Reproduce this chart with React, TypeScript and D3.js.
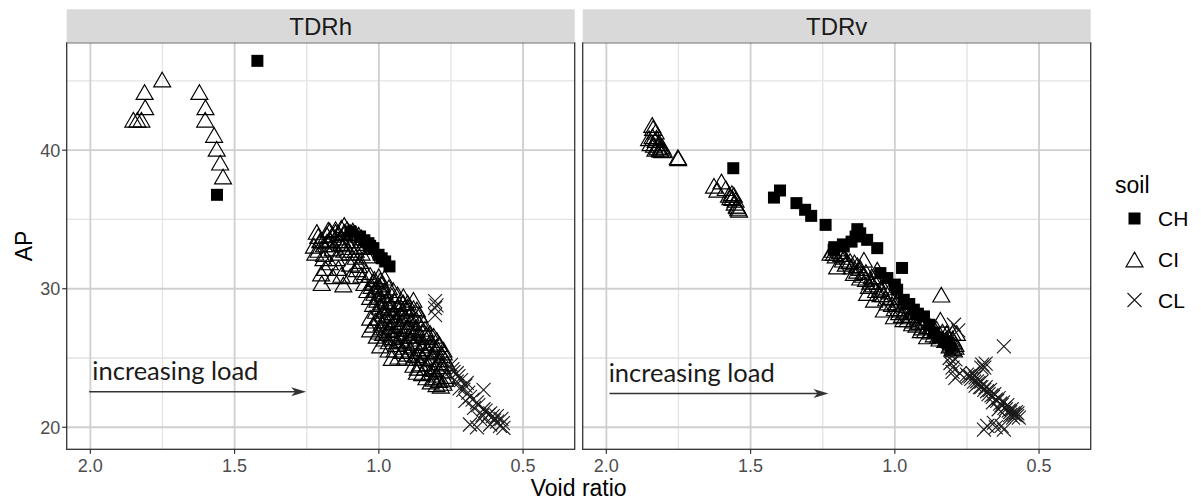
import React from 'react';
import * as d3 from 'd3';

const facets = ['TDRh', 'TDRv'];
const soils = ['CH', 'CI', 'CL'];
const xTicks = [2.0, 1.5, 1.0, 0.5];
const xMinor = [1.75, 1.25, 0.75];
const yTicks = [20, 30, 40];
const yMinor = [25, 35, 45];

// points are [void ratio, AP]
const tdrhCH = [
  [1.421, 46.45], [1.561, 36.78], [1.099, 34.13], [1.065, 33.77], [1.036, 33.29], [1.019, 32.93],
  [1.001, 32.45], [0.978, 31.97], [0.963, 31.61], [1.05, 33.5], [0.99, 32.2], [1.03, 33.1],
];
const tdrhCI = [
  [1.751, 45.1], [1.812, 44.2], [1.81, 43.1], [1.851, 42.2], [1.837, 42.2], [1.823, 42.2],
  [1.622, 44.2], [1.601, 43.1], [1.602, 42.2], [1.571, 41.1], [1.562, 40.1], [1.55, 39.1], [1.54, 38.1],
  [1.215, 34.1], [1.175, 34.25], [1.12, 34.6], [1.203, 33.5], [1.169, 33.5], [1.209, 32.8], [1.192, 32.2],
  [1.186, 31.5], [1.14, 31.5], [1.198, 30.4], [1.123, 30.3], [1.099, 30.9], [1.076, 31.4], [1.065, 32.0],
  [1.146, 32.2], [1.18, 33.9], [1.16, 33.9], [1.14, 34.0], [1.12, 34.1], [1.10, 34.1], [1.08, 34.0],
  [1.06, 33.7], [1.09, 33.5], [1.11, 33.5], [1.13, 33.3], [1.16, 33.2], [1.19, 33.2], [1.05, 33.3],
  [1.07, 33.1], [1.03, 33.0], [1.15, 34.1], [1.13, 33.7], [1.17, 33.6], [1.21, 33.8], [1.20, 33.5],
  [1.225, 33.1], [1.10, 32.6], [1.08, 32.3], [1.04, 32.4], [1.12, 32.8],
  [1.17, 34.2], [1.15, 34.3], [1.13, 34.4], [1.11, 34.3], [1.09, 34.2], [1.07, 33.9], [1.18, 33.4],
  [1.14, 33.5], [1.12, 33.2], [1.10, 33.0], [1.08, 32.8], [1.06, 32.6], [1.16, 32.9], [1.19, 32.5],
  [1.22, 32.6], [1.14, 32.6], [1.17, 31.9], [1.10, 31.8], [1.07, 31.7], [1.20, 31.1], [1.16, 30.9], [1.13, 31.0],
  [1.06, 31.0], [1.03, 31.0], [1.0, 30.9], [0.98, 30.8], [1.05, 30.4], [1.02, 30.5], [0.99, 30.3],
  [1.045, 31.2], [1.015, 30.7], [0.995, 30.6], [1.025, 30.2], [0.995, 30.1], [0.965, 30.1],
  [1.04, 29.9], [1.01, 30.0], [0.98, 29.8], [0.95, 29.9], [1.03, 29.4], [1.0, 29.5], [0.97, 29.3],
  [1.015, 29.7], [0.985, 29.6], [0.955, 29.5], [0.935, 29.6], [0.90, 29.0],
  [0.915, 29.45], [0.88, 29.2], [1.02, 28.9], [0.99, 29.0], [0.96, 28.8], [0.93, 28.9], [0.90, 28.7],
  [1.005, 29.2], [0.975, 29.1], [0.945, 29.1], [0.915, 29.0], [0.995, 28.7], [0.965, 28.6], [0.935, 28.6],
  [0.905, 28.5], [0.88, 28.6],
  [1.01, 28.4], [0.98, 28.5], [0.95, 28.3], [0.92, 28.4], [0.868, 28.5], [0.89, 28.2],
  [0.985, 28.2], [0.955, 28.1], [0.925, 28.1], [0.895, 28.0], [0.86, 28.1],
  [1.03, 27.9], [1.0, 27.9], [0.97, 28.0], [0.94, 27.8], [0.91, 27.9], [0.87, 27.8],
  [1.01, 27.7], [0.98, 27.7], [0.95, 27.6], [0.92, 27.6], [0.89, 27.6], [0.86, 27.5],
  [1.02, 27.4], [0.99, 27.5], [0.96, 27.3], [0.93, 27.4], [0.90, 27.3], [0.845, 27.5], [0.87, 27.2],
  [0.99, 27.2], [0.96, 27.1], [0.93, 27.1], [0.90, 27.1], [0.87, 27.0], [0.84, 27.1],
  [1.03, 27.06], [1.0, 26.9], [0.97, 27.0], [0.94, 26.8], [0.91, 26.9], [0.88, 26.8], [0.822, 26.8], [0.85, 26.9],
  [0.985, 26.8], [0.955, 26.7], [0.925, 26.6], [0.895, 26.6], [0.865, 26.6], [0.835, 26.7], [0.81, 26.6],
  [1.007, 26.6], [0.98, 26.4], [0.95, 26.5], [0.92, 26.3], [0.89, 26.4], [0.86, 26.2], [0.799, 26.3], [0.83, 26.5],
  [0.965, 26.2], [0.935, 26.2], [0.905, 26.1], [0.875, 26.1], [0.845, 26.1], [0.815, 26.1], [0.79, 26.0],
  [0.995, 25.9], [0.966, 25.6], [0.94, 26.0], [0.91, 25.8], [0.88, 25.9], [0.85, 25.7], [0.82, 25.9], [0.776, 25.6], [0.80, 25.8],
  [0.945, 25.6], [0.92, 25.5], [0.89, 25.6], [0.86, 25.5], [0.83, 25.6], [0.80, 25.5], [0.775, 25.4],
  [0.955, 25.0], [0.932, 25.1], [0.90, 25.3], [0.87, 25.2], [0.84, 25.4], [0.81, 25.1], [0.78, 25.2],
  [0.91, 25.0], [0.88, 25.0], [0.85, 25.0], [0.82, 24.9], [0.79, 24.7], [0.77, 24.9],
  [0.857, 24.6], [0.88, 24.5], [0.83, 24.6], [0.80, 24.4], [0.764, 24.6], [0.79, 24.9],
  [0.865, 24.3], [0.84, 24.3], [0.81, 24.2], [0.78, 24.4],
  [0.868, 24.0], [0.822, 24.0], [0.85, 23.9], [0.80, 23.8], [0.78, 24.1],
  [0.835, 23.6], [0.80, 23.6], [0.77, 23.5], [0.785, 23.0], [0.80, 23.1],
  [0.776, 23.2], [0.764, 23.7], [0.79, 23.4], [0.81, 23.5], [0.82, 23.3],
];
const tdrhCL = [
  [0.805, 29.1], [0.805, 28.6], [0.805, 28.1], [0.80, 28.8],
  [0.741, 24.0], [0.724, 23.7], [0.695, 23.2], [0.707, 22.7], [0.684, 22.2], [0.66, 21.8], [0.637, 21.3],
  [0.614, 21.0], [0.591, 20.8], [0.684, 20.2], [0.649, 20.6], [0.614, 20.2], [0.58, 20.1], [0.568, 19.96],
  [0.637, 22.7], [0.75, 24.5], [0.72, 22.8], [0.70, 21.9], [0.62, 20.9], [0.60, 20.5], [0.66, 20.0],
  [0.73, 23.3], [0.67, 21.4], [0.64, 20.9],
  [0.745, 24.2], [0.73, 23.9], [0.715, 23.4], [0.70, 23.0], [0.69, 22.5], [0.675, 22.0], [0.655, 21.6],
  [0.63, 21.2], [0.605, 20.8], [0.59, 20.4], [0.57, 20.3], [0.575, 20.6],
];

const tdrvCH = [
  [1.56, 38.7], [1.419, 36.58], [1.398, 37.09], [1.341, 36.18], [1.311, 35.7], [1.29, 35.26], [1.24, 34.61],
  [1.13, 34.3], [1.136, 33.77], [1.096, 33.53], [1.061, 32.93], [1.177, 33.05], [1.212, 32.81], [0.975, 31.5],
  [1.12, 34.0], [1.15, 33.4], [1.21, 33.0], [1.18, 33.2], [1.026, 30.77], [1.05, 31.13], [0.969, 29.2],
  [0.934, 28.49], [0.899, 28.0], [0.864, 26.8], [0.818, 26.08], [0.807, 25.6], [0.992, 29.93],
  [1.0, 30.3], [0.95, 28.9], [0.92, 28.2], [0.88, 27.4], [0.85, 26.5], [0.83, 26.2],
];
const tdrvCI = [
  [1.841, 41.82], [1.829, 41.34], [1.852, 40.86], [1.829, 40.74], [1.818, 40.5], [1.806, 40.26], [1.812, 40.02],
  [1.835, 40.38], [1.847, 40.5], [1.801, 40.02], [1.751, 39.42], [1.752, 39.5],
  [1.84, 41.0], [1.826, 40.9], [1.822, 40.2], [1.815, 40.1], [1.805, 40.0], [1.83, 40.1], [1.838, 41.6],
  [1.627, 37.43], [1.601, 37.74], [1.615, 37.14], [1.586, 37.26], [1.575, 36.78], [1.563, 36.54], [1.552, 36.42],
  [1.546, 35.94], [1.54, 35.7], [1.558, 36.78],
  [1.555, 36.2], [1.548, 36.0], [1.543, 35.8], [1.57, 36.6], [1.565, 36.9],
  [1.223, 32.6], [1.211, 32.57], [1.19, 32.7], [1.165, 31.97], [1.2, 31.6], [1.18, 32.1], [1.107, 32.09],
  [1.14, 31.9], [1.12, 31.5], [1.142, 31.13], [1.10, 31.2], [1.061, 31.37], [1.08, 30.9], [1.06, 30.5],
  [1.12, 30.8], [1.096, 29.69], [1.09, 30.2], [1.04, 30.1], [1.072, 29.2], [1.05, 29.6], [1.02, 29.8],
  [1.038, 28.49], [1.01, 28.9], [0.99, 29.2], [1.003, 28.0], [0.98, 28.5], [0.96, 28.8], [0.95, 28.1],
  [0.97, 27.8], [0.93, 28.3], [0.94, 27.5], [0.92, 27.9], [0.90, 27.6], [0.876, 27.28], [0.91, 27.0],
  [0.888, 26.56], [0.86, 27.0], [0.842, 27.76], [0.85, 26.6], [0.82, 26.8], [0.80, 26.4], [0.79, 26.0],
  [0.81, 25.9], [0.795, 25.6], [0.785, 26.8], [0.839, 29.57],
  [1.215, 32.8], [1.205, 32.4], [1.195, 32.9], [1.185, 32.5], [1.175, 32.3], [1.17, 31.8], [1.155, 32.0],
  [1.15, 31.6], [1.13, 31.7], [1.13, 31.3], [1.11, 31.0], [1.10, 30.7], [1.085, 30.5], [1.075, 30.3],
  [1.07, 30.8], [1.065, 29.9], [1.05, 30.0], [1.04, 29.6], [1.03, 29.3], [1.025, 29.0], [1.015, 29.4],
  [1.0, 28.6], [0.995, 29.0], [0.985, 28.3], [0.975, 28.1], [0.965, 28.4], [0.955, 27.8], [0.945, 28.0],
  [0.935, 27.7], [0.925, 27.4], [0.915, 27.6], [0.905, 27.2], [0.895, 27.0], [0.885, 27.3], [0.875, 26.9],
  [0.865, 26.7], [0.855, 27.1], [0.845, 26.4], [0.835, 26.9], [0.825, 26.3], [0.815, 26.5], [0.805, 26.1],
  [0.80, 26.8], [0.795, 26.2], [0.79, 25.8], [0.80, 25.7],
];
const tdrvCL = [
  [0.795, 27.4], [0.622, 25.84], [0.807, 24.64], [0.79, 23.56], [0.80, 24.0], [0.697, 24.52], [0.69, 24.3],
  [0.738, 23.68], [0.715, 23.32], [0.70, 22.9], [0.68, 22.6], [0.665, 22.3], [0.65, 22.0], [0.635, 21.7],
  [0.62, 21.4], [0.605, 21.2], [0.59, 21.0], [0.576, 20.8], [0.58, 21.1], [0.60, 20.9], [0.691, 19.83],
  [0.657, 20.32], [0.622, 19.83], [0.63, 20.1], [0.75, 23.8], [0.81, 25.0], [0.78, 27.0], [0.72, 23.0],
  [0.66, 21.8], [0.64, 21.3],
  [0.745, 23.7], [0.735, 23.5], [0.73, 23.9], [0.725, 23.3], [0.72, 23.6], [0.71, 23.2], [0.705, 22.9],
  [0.70, 23.3], [0.69, 22.7], [0.685, 22.9], [0.675, 22.4], [0.67, 22.7], [0.66, 22.2], [0.655, 22.4],
  [0.645, 21.9], [0.64, 22.1], [0.63, 21.6], [0.625, 21.8], [0.615, 21.3], [0.61, 21.6], [0.60, 21.1],
  [0.595, 21.3], [0.585, 20.9], [0.575, 21.0], [0.57, 20.7], [0.59, 20.7],
  [0.80, 24.3], [0.79, 24.9], [0.775, 23.9], [0.70, 24.3], [0.685, 24.6], [0.68, 20.1], [0.65, 20.0],
];

const panelData = {
  TDRh: { CH: tdrhCH, CI: tdrhCI, CL: tdrhCL },
  TDRv: { CH: tdrvCH, CI: tdrvCI, CL: tdrvCL },
};

// "increasing load" arrows, in data units
const loadNotes = {
  TDRh: { from: 2.004, to: 1.252, ap: 22.57, textX: 1.993, textAP: 23.4 },
  TDRv: { from: 1.989, to: 1.23, ap: 22.43, textX: 1.992, textAP: 23.3 },
};

const panelLeft = [66.7, 582.7];
const panelW = 508;
const panelTop = 42.7;
const panelH = 406.6;
const stripTop = 9.3;
const font = 'Liberation Sans, Arial, Helvetica, sans-serif';

const x = d3.scaleLinear().domain([2.082, 0.321]).range([0, panelW]);
const y = d3.scaleLinear().domain([18.41, 47.76]).range([panelH, 0]);

const Marker = ({ shape, cx, cy }) => {
  if (shape === 'CH') {
    const s = 12;
    return <rect x={cx - s / 2} y={cy - s / 2} width={s} height={s} fill="#000" />;
  }
  if (shape === 'CI') {
    const w = 17, h = 14.7;
    const d = `M${cx},${cy - h / 2}L${cx + w / 2},${cy + h / 2}L${cx - w / 2},${cy + h / 2}Z`;
    return <path d={d} fill="none" stroke="#000" strokeWidth={1.15} />;
  }
  const r = 7;
  return (
    <path
      d={`M${cx - r},${cy - r}L${cx + r},${cy + r}M${cx - r},${cy + r}L${cx + r},${cy - r}`}
      stroke="#1a1a1a"
      strokeWidth={1.1}
      fill="none"
    />
  );
};

const Panel = ({ facet, left }) => {
  const data = panelData[facet];
  const note = loadNotes[facet];
  const ax1 = x(note.from), ax2 = x(note.to), ay = y(note.ap);
  return (
    <g transform={`translate(${left},${panelTop})`}>
      <rect x={0} y={0} width={panelW} height={panelH} fill="#fff" />
      {xMinor.map(v => (
        <line key={'xm' + v} x1={x(v)} x2={x(v)} y1={0} y2={panelH} stroke="#e3e3e3" strokeWidth={1.3} />
      ))}
      {yMinor.map(v => (
        <line key={'ym' + v} x1={0} x2={panelW} y1={y(v)} y2={y(v)} stroke="#e3e3e3" strokeWidth={1.3} />
      ))}
      {xTicks.map(v => (
        <line key={'xM' + v} x1={x(v)} x2={x(v)} y1={0} y2={panelH} stroke="#cfcfcf" strokeWidth={1.8} />
      ))}
      {yTicks.map(v => (
        <line key={'yM' + v} x1={0} x2={panelW} y1={y(v)} y2={y(v)} stroke="#cfcfcf" strokeWidth={1.8} />
      ))}
      {['CI', 'CH', 'CL'].map(s =>
        data[s].map((p, i) => <Marker key={s + i} shape={s} cx={x(p[0])} cy={y(p[1])} />)
      )}
      <text x={x(note.textX)} y={y(note.textAP)} fontFamily="Lato, sans-serif" fontSize={25.5} fill="#1a1a1a">
        increasing load
      </text>
      <line x1={ax1} x2={ax2 - 8} y1={ay} y2={ay} stroke="#333" strokeWidth={1.5} />
      <path d={`M${ax2},${ay}L${ax2 - 15},${ay - 4.5}L${ax2 - 11},${ay}L${ax2 - 15},${ay + 4.5}Z`} fill="#333" />
      <rect x={0} y={0} width={panelW} height={panelH} fill="none" stroke="#333" strokeWidth={1.3} />
      {xTicks.map(v => (
        <g key={'xt' + v}>
          <line x1={x(v)} x2={x(v)} y1={panelH} y2={panelH + 4.5} stroke="#333" strokeWidth={1.2} />
          <text x={x(v)} y={panelH + 22.5} textAnchor="middle" fontFamily={font} fontSize={18} fill="#4d4d4d">
            {d3.format('.1f')(v)}
          </text>
        </g>
      ))}
      <rect x={0} y={stripTop - panelTop} width={panelW} height={panelTop - stripTop} fill="#d9d9d9" />
      <text x={panelW / 2} y={35 - panelTop} textAnchor="middle" fontFamily={font} fontSize={24} fill="#1a1a1a">
        {facet}
      </text>
    </g>
  );
};

const legendY = [218.5, 259.5, 300];

export default function App() {
  return (
    <svg width={1201} height={502} style={{ position: 'absolute', left: 0, top: 0, background: '#fff' }}>
      {facets.map((f, i) => (
        <Panel key={f} facet={f} left={panelLeft[i]} />
      ))}
      <g transform={`translate(${panelLeft[0]},${panelTop})`}>
        {yTicks.map(v => (
          <g key={'yt' + v}>
            <line x1={-4.5} x2={0} y1={y(v)} y2={y(v)} stroke="#333" strokeWidth={1.2} />
            <text x={-6.5} y={y(v) + 6.4} textAnchor="end" fontFamily={font} fontSize={18} fill="#4d4d4d">
              {v}
            </text>
          </g>
        ))}
      </g>
      <text transform="translate(31.5,246) rotate(-90)" textAnchor="middle" fontFamily={font} fontSize={23} fill="#000">
        AP
      </text>
      <text x={578.7} y={496} textAnchor="middle" fontFamily={font} fontSize={23} fill="#000">
        Void ratio
      </text>
      <text x={1115} y={193} fontFamily={font} fontSize={23} fill="#000">soil</text>
      {soils.map((s, i) => (
        <g key={'lg' + s}>
          <Marker shape={s} cx={1134.5} cy={legendY[i]} />
          <text x={1158} y={legendY[i] + 7.5} fontFamily={font} fontSize={21} fill="#000">{s}</text>
        </g>
      ))}
    </svg>
  );
}
